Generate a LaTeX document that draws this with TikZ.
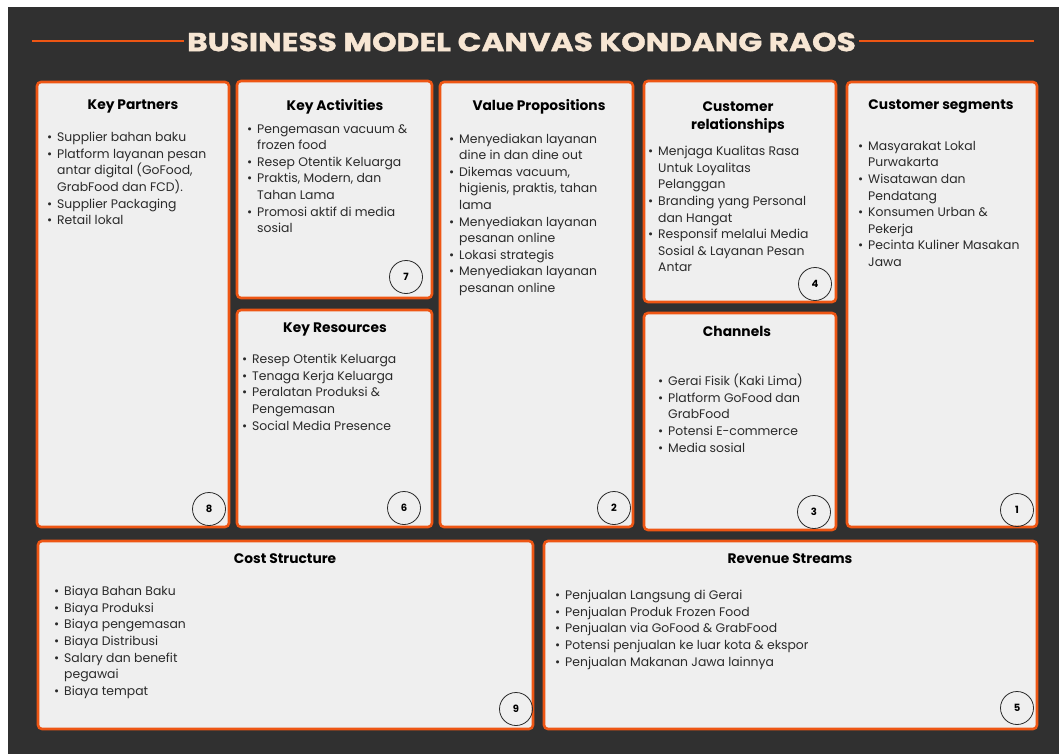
\documentclass[tikz,border=0pt]{standalone}
\usepackage{fontspec}
\setmainfont{Poppins}
\usepackage{graphicx}
\usepackage{tikz}
\usetikzlibrary{positioning}

\definecolor{canvasbg}{HTML}{303030}
\definecolor{bmcorange}{HTML}{EE5614}
\definecolor{cellfill}{HTML}{EFEFEF}
\definecolor{titlecream}{HTML}{F7E6D3}
\definecolor{inkgray}{HTML}{2A2A2A}

% bullet and hanging indent for the item lists
\newcommand{\bul}{\makebox[10pt][l]{\textbullet}}
\newcommand{\ind}{\makebox[10pt]{}}

\begin{document}
\begin{tikzpicture}[x=1pt,y=-1pt,
  cell/.style={draw=bmcorange,line width=2.6pt,fill=cellfill,rounded corners=4pt,inner sep=0pt},
  head/.style={font=\fontsize{13.8}{18}\selectfont\bfseries,text=black,align=center},
  items/.style={font=\fontsize{12.4}{16.6}\selectfont,text=inkgray,align=left,anchor=north west,inner sep=0pt},
  num/.style={circle,draw=inkgray,line width=0.8pt,minimum size=33pt,inner sep=0pt,font=\fontsize{10}{12}\selectfont\bfseries}]

  \useasboundingbox (0,0) rectangle (1059,754);
  \fill[white] (0,0) rectangle (1059,754);
  \fill[canvasbg] (8,7) rectangle (1059,754);

  % title with the two rules
  \node[font=\fontsize{26}{30}\selectfont\bfseries\addfontfeature{FakeBold=1.2},text=titlecream] (title) at (521.5,42)
    {\scalebox{1.2}[1]{BUSINESS MODEL CANVAS KONDANG RAOS}};
  \coordinate (ruleL) at (32,41);
  \coordinate (ruleR) at (1034,41);
  \draw[bmcorange,line width=2.5pt] (ruleL) -- (title.west |- ruleL);
  \draw[bmcorange,line width=2.5pt] (title.east |- ruleR) -- (ruleR);

  % the nine cells
  \node[cell,minimum width=192pt,minimum height=445pt] (kp) at (133,304.5) {};
  \node[cell,minimum width=195pt,minimum height=217pt] (ka) at (334.5,189.5) {};
  \node[cell,minimum width=195pt,minimum height=217pt] (kr) at (334.5,418.5) {};
  \node[cell,minimum width=193pt,minimum height=445pt] (vp) at (536.5,304.5) {};
  \node[cell,minimum width=192pt,minimum height=221pt] (cr) at (740,191.5) {};
  \node[cell,minimum width=192pt,minimum height=217pt] (ch) at (740,421.5) {};
  \node[cell,minimum width=190pt,minimum height=445pt] (cs) at (942,304.5) {};
  \node[cell,minimum width=495pt,minimum height=188pt] (cost) at (285.5,635) {};
  \node[cell,minimum width=493pt,minimum height=188pt] (rev) at (790.5,635) {};

  % headings
  \node[head] (kph) at (133,106.5) {Key Partners};
  \node[head] (kah) at (335,106.5) {Key Activities};
  \node[head] (krh) at (335,329.5) {Key Resources};
  \node[head] (vph) at (539,106.5) {Value Propositions};
  \node[head] (crh) at (738,117) {Customer\\relationships};
  \node[head] (chh) at (737,331.5) {Channels};
  \node[head] (csh) at (941,106.5) {Customer segments};
  \node[head] (costh) at (285,558.5) {Cost Structure};
  \node[head] (revh) at (790,558.5) {Revenue Streams};

  % lists
  \node[items] (kpl) at (47,132) {\bul Supplier bahan baku\\\bul Platform layanan pesan\\\ind antar digital (GoFood,\\\ind GrabFood dan FCD).\\\bul Supplier Packaging\\\bul Retail lokal};
  \node[items] (kal) at (247,124) {\bul Pengemasan vacuum \&\\\ind frozen food\\\bul Resep Otentik Keluarga\\\bul Praktis, Modern, dan\\\ind Tahan Lama\\\bul Promosi aktif di media\\\ind sosial};
  \node[items] (krl) at (242,354) {\bul Resep Otentik Keluarga\\\bul Tenaga Kerja Keluarga\\\bul Peralatan Produksi \&\\\ind Pengemasan\\\bul Social Media Presence};
  \node[items] (vpl) at (449,133.5) {\bul Menyediakan layanan\\\ind dine in dan dine out\\\bul Dikemas vacuum,\\\ind higienis, praktis, tahan\\\ind lama\\\bul Menyediakan layanan\\\ind pesanan online\\\bul Lokasi strategis\\\bul Menyediakan layanan\\\ind pesanan online};
  \node[items] (crl) at (648,146) {\bul Menjaga Kualitas Rasa\\\ind Untuk Loyalitas\\\ind Pelanggan\\\bul Branding yang Personal\\\ind dan Hangat\\\bul Responsif melalui Media\\\ind Sosial \& Layanan Pesan\\\ind Antar};
  \node[items] (chl) at (658,374) {\bul Gerai Fisik (Kaki Lima)\\\bul Platform GoFood dan\\\ind GrabFood\\\bul Potensi E-commerce\\\bul Media sosial};
  \node[items] (csl) at (858,141) {\bul Masyarakat Lokal\\\ind Purwakarta\\\bul Wisatawan dan\\\ind Pendatang\\\bul Konsumen Urban \&\\\ind Pekerja\\\bul Pecinta Kuliner Masakan\\\ind Jawa};
  \node[items] (costl) at (54,586) {\bul Biaya Bahan Baku\\\bul Biaya Produksi\\\bul Biaya pengemasan\\\bul Biaya Distribusi\\\bul Salary dan benefit\\\ind pegawai\\\bul Biaya tempat};
  \node[items] (revl) at (555,590) {\bul Penjualan Langsung di Gerai\\\bul Penjualan Produk Frozen Food\\\bul Penjualan via GoFood \& GrabFood\\\bul Potensi penjualan ke luar kota \& ekspor\\\bul Penjualan Makanan Jawa lainnya};

  % numbered markers
  \node[num] (n1) at (1017,510) {1};
  \node[num] (n2) at (614,508) {2};
  \node[num] (n3) at (814,512) {3};
  \node[num] (n4) at (815,284) {4};
  \node[num] (n5) at (1017,708) {5};
  \node[num] (n6) at (404,508) {6};
  \node[num] (n7) at (406,277) {7};
  \node[num] (n8) at (209,509) {8};
  \node[num] (n9) at (516,709) {9};

\end{tikzpicture}
\end{document}
